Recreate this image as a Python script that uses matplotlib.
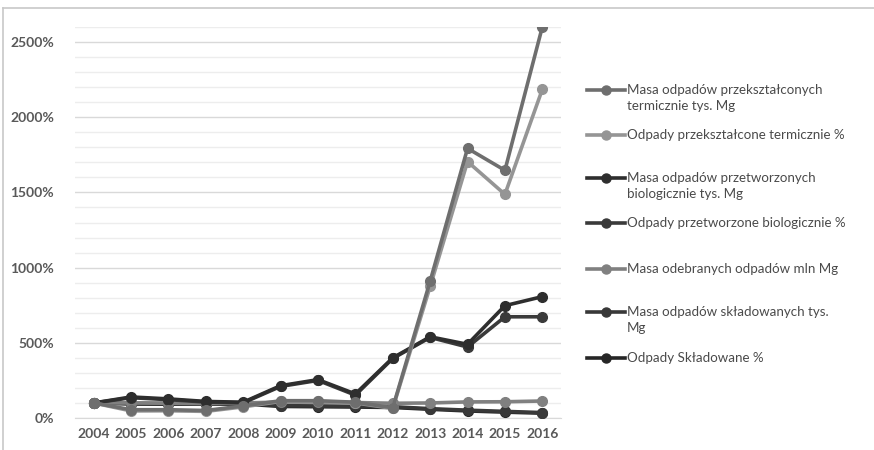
import matplotlib
matplotlib.use("Agg")
import matplotlib.pyplot as plt
from matplotlib.lines import Line2D
from matplotlib.ticker import MultipleLocator, FuncFormatter

plt.rcParams['font.family'] = ['Lato', 'DejaVu Sans']

# --- data (index 2004 = 100%) ---
years = [str(y) for y in range(2004, 2017)]

termic_mass = [100, 55, 55, 50, 80, 115, 115, 105, 68, 910, 1793, 1647, 2600]
termic_pct = [100, 47, 48, 44, 74, 110, 110, 100, 64, 875, 1705, 1487, 2185]
bio_mass = [100, 140, 127, 110, 105, 215, 255, 160, 400, 540, 490, 747, 807]
bio_pct = [100, 135, 122, 106, 101, 210, 250, 152, 396, 536, 472, 673, 673]
collected = [100, 100, 98, 97, 100, 106, 106, 103, 98, 100, 107, 108, 113]
landfill_mass = [100, 98, 97, 96, 96, 82, 80, 78, 75, 62, 52, 44, 36]
landfill_pct = [100, 93, 92, 93, 93, 77, 75, 73, 70, 58, 47, 39, 32]

labels = [
    'Masa odpadów przekształconych\ntermicznie tys. Mg',
    'Odpady przekształcone termicznie %',
    'Masa odpadów przetworzonych\nbiologicznie tys. Mg',
    'Odpady przetworzone biologicznie %',
    'Masa odebranych odpadów mln Mg',
    'Masa odpadów składowanych tys.\nMg',
    'Odpady Składowane %',
]
series = [termic_mass, termic_pct, bio_mass, bio_pct, collected,
          landfill_mass, landfill_pct]
colors = ['#6e6e6e', '#959595', '#2e2e2e', '#3a3a3a', '#808080',
          '#383838', '#262626']

W, H = 874, 450
fig = plt.figure(figsize=(W / 100, H / 100), dpi=100)
fig.patch.set_facecolor('white')

# chart frame
fig.add_artist(Line2D([3 / W, 3 / W], [0, 1 - 8 / H], transform=fig.transFigure,
                      color='#c8c8c8', lw=1.2))
fig.add_artist(Line2D([3 / W, 1], [1 - 8 / H, 1 - 8 / H], transform=fig.transFigure,
                      color='#c8c8c8', lw=1.2))

ax = fig.add_axes([75 / W, 32 / H, 486 / W, 391 / H])
x = list(range(len(years)))

# draw in reverse so the first series sits on top
for vals, col in list(zip(series, colors))[::-1]:
    ax.plot(x, vals, color=col, lw=2.6, marker='o', markersize=7,
            markeredgecolor=col, markerfacecolor=col, zorder=3)

ax.set_xlim(-0.5, len(years) - 0.5)
ax.set_ylim(0, 2600)
ax.set_xticks(x)
ax.set_xticklabels(years)
ax.yaxis.set_major_locator(MultipleLocator(500))
ax.yaxis.set_minor_locator(MultipleLocator(100))
ax.yaxis.set_major_formatter(FuncFormatter(lambda v, p: f'{int(v)}%'))

ax.grid(True, which='major', axis='y', color='#d9d9d9', lw=1, zorder=0)
ax.grid(True, which='minor', axis='y', color='#ededed', lw=1, zorder=0)
for s in ['top', 'right', 'left']:
    ax.spines[s].set_visible(False)
ax.spines['bottom'].set_color('#d9d9d9')
ax.tick_params(axis='both', which='both', length=0)
ax.tick_params(axis='y', pad=15, labelsize=10, labelcolor='#595959')
ax.tick_params(axis='x', pad=7, labelsize=10, labelcolor='#595959')
for t in ax.get_xticklabels() + ax.get_yticklabels():
    t.set_fontweight('bold')

# legend, drawn in figure pixels
legend_y = [90, 135, 178, 223, 269, 312, 358]
for lab, col, yy in zip(labels, colors, legend_y):
    fy = 1 - yy / H
    fig.add_artist(Line2D([587 / W, 625 / W], [fy, fy], transform=fig.transFigure,
                          color=col, lw=2.6))
    fig.add_artist(Line2D([606 / W], [fy], transform=fig.transFigure,
                          color=col, marker='o', markersize=6.5))
    fig.text(627 / W, fy + 6 / H, lab, ha='left', va='top', fontsize=9.6,
             color='#4a4a4a', linespacing=1.4)

fig.savefig('out.png', dpi=100, facecolor='white')
